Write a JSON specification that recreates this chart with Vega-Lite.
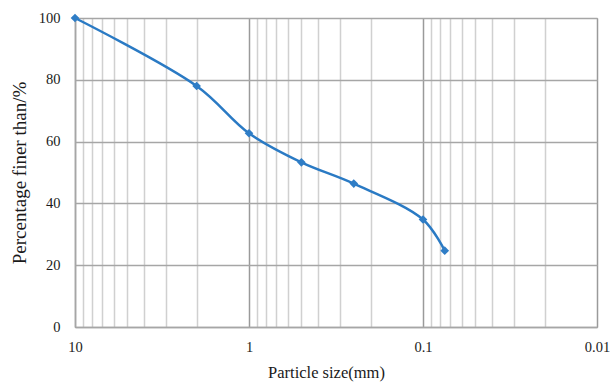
{
  "$schema": "https://vega.github.io/schema/vega-lite/v6.json",
  "width": 522,
  "height": 309,
  "autosize": {"type": "none"},
  "padding": {"left": 75, "top": 18, "right": 13, "bottom": 59},
  "background": "white",
  "config": {
    "view": {"stroke": "#a6a6a6", "strokeWidth": 1},
    "font": "Liberation Serif",
    "axis": {
      "labelFont": "Liberation Serif",
      "titleFont": "Liberation Serif",
      "labelFontSize": 14.5,
      "titleFontSize": 16.5,
      "titleFontWeight": "normal",
      "labelColor": "#1a1a1a",
      "titleColor": "#1a1a1a",
      "ticks": false,
      "labelFlush": false,
      "domainColor": "#a6a6a6",
      "domainWidth": 1.5
    }
  },
  "data": {
    "values": [
      {"size": 10, "pct": 100},
      {"size": 2, "pct": 78},
      {"size": 1, "pct": 62.7},
      {"size": 0.5, "pct": 53.3},
      {"size": 0.25, "pct": 46.4},
      {"size": 0.1, "pct": 34.8},
      {"size": 0.075, "pct": 24.7}
    ]
  },
  "encoding": {
    "x": {
      "field": "size",
      "type": "quantitative",
      "scale": {"type": "log", "domain": [0.01, 10], "reverse": true, "nice": false},
      "axis": {
        "title": "Particle size(mm)",
        "titlePadding": 11,
        "titleX": 251,
        "values": [10, 9, 8, 7, 6, 5, 4, 3, 2, 1, 0.9, 0.8, 0.7, 0.6, 0.5, 0.4, 0.3, 0.2, 0.1, 0.09, 0.08, 0.07, 0.06, 0.05, 0.04, 0.03, 0.02, 0.01],
        "labelExpr": "datum.value == 10 ? '10' : datum.value == 1 ? '1' : datum.value == 0.1 ? '0.1' : datum.value == 0.01 ? '0.01' : ''",
        "labelPadding": 13,
        "labelOverlap": false,
        "grid": true,
        "gridColor": {
          "condition": {"test": "datum.value == 10 || datum.value == 1 || datum.value == 0.1 || datum.value == 0.01", "value": "#9a9a9a"},
          "value": "#d0d0d0"
        },
        "gridWidth": 1.5
      }
    },
    "y": {
      "field": "pct",
      "type": "quantitative",
      "scale": {"domain": [0, 100], "nice": false},
      "axis": {
        "title": "Percentage finer than/%",
        "titleFontSize": 19,
        "values": [0, 20, 40, 60, 80, 100],
        "labelPadding": 15,
        "titlePadding": 9,
        "grid": true,
        "gridColor": "#a6a6a6",
        "gridWidth": 1.5
      }
    }
  },
  "layer": [
    {
      "mark": {"type": "line", "interpolate": "catmull-rom", "color": "#2a7ac4", "strokeWidth": 2.5}
    },
    {
      "mark": {"type": "point", "shape": "diamond", "filled": true, "opacity": 1, "color": "#2f7dc6", "size": 75}
    }
  ]
}
